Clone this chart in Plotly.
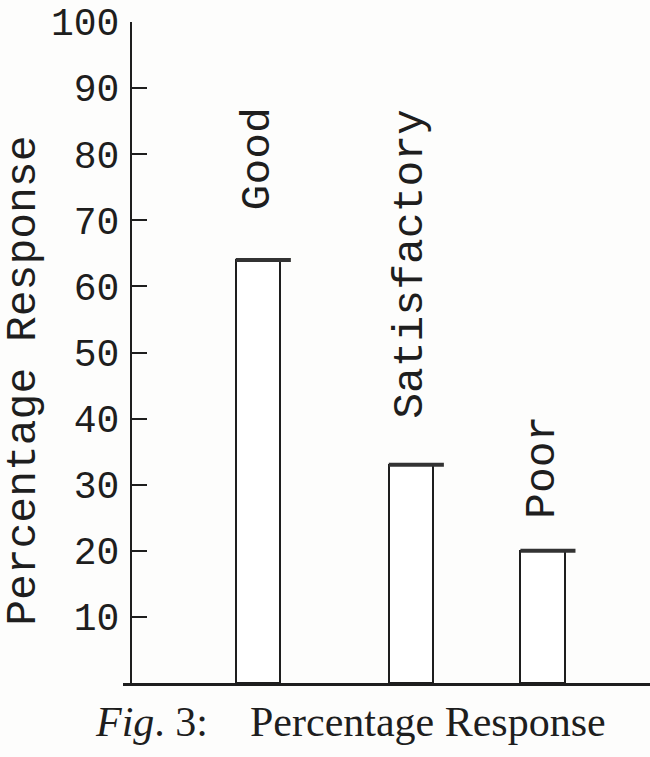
import plotly.graph_objects as go

categories = ['Good', 'Satisfactory', 'Poor']
response = [64, 33, 20]
y_ticks = [10, 20, 30, 40, 50, 60, 70, 80, 90, 100]

# layout: where the bars sit on the x axis (uneven spacing as in the print)
bar_pos = [1.0, 2.0, 2.86]
bar_width = 0.29
label_gap = [48, 44, 30]

ink = '#1e1e1e'
mono = 'Liberation Mono, Courier New, monospace'
serif = 'Liberation Serif, Times New Roman, serif'

fig = go.Figure()

fig.add_trace(go.Bar(
    x=bar_pos, y=response, width=bar_width,
    marker=dict(color='white', line=dict(color=ink, width=2)),
    hoverinfo='skip', showlegend=False))

# thick caps on the bar tops, running a bit past the right edge
for p, v in zip(bar_pos, response):
    fig.add_trace(go.Scatter(
        x=[p - bar_width / 2, p + bar_width / 2 + 0.07], y=[v, v],
        mode='lines', line=dict(color='#333', width=4),
        hoverinfo='skip', showlegend=False))

for p, v, name, gap in zip(bar_pos, response, categories, label_gap):
    fig.add_annotation(x=p, y=v, text=name, textangle=-90,
                       showarrow=False, xanchor='center', yanchor='bottom',
                       yshift=gap,
                       font=dict(family=mono, size=43, color=ink))

fig.add_annotation(xref='paper', yref='paper', x=-0.188, y=0.457,
                   text='Percentage Response', textangle=-90, showarrow=False,
                   xanchor='center', yanchor='middle',
                   font=dict(family=mono, size=43, color=ink))

fig.add_annotation(xref='paper', yref='paper', x=0.431, y=-0.059,
                   text='<i>Fig</i>. 3:\u00a0\u00a0\u00a0 Percentage Response',
                   showarrow=False, xanchor='center', yanchor='middle',
                   font=dict(family=serif, size=42, color=ink))

fig.update_layout(
    width=650, height=757,
    margin=dict(l=123, r=0, t=22, b=74),
    paper_bgcolor='#fdfdfc', plot_bgcolor='#fdfdfc',
    bargap=0,
    xaxis=dict(range=[0.118, 3.562], showline=True, linecolor=ink, linewidth=3,
               showticklabels=False, ticks='', showgrid=False, zeroline=False,
               fixedrange=True),
    yaxis=dict(range=[0, 100], anchor='free', position=0.015,
               showline=True, linecolor=ink, linewidth=2,
               tickvals=y_ticks, ticks='inside', ticklen=15, tickwidth=2,
               tickcolor=ink, ticklabelstandoff=3,
               tickfont=dict(family=mono, size=38, color=ink),
               showgrid=False, zeroline=False, fixedrange=True),
)

# drop the browser's default body margin so the figure sits at the page corner
fig.write_html('out.html', config={'displayModeBar': False},
               post_script="document.body.style.margin='0';")
